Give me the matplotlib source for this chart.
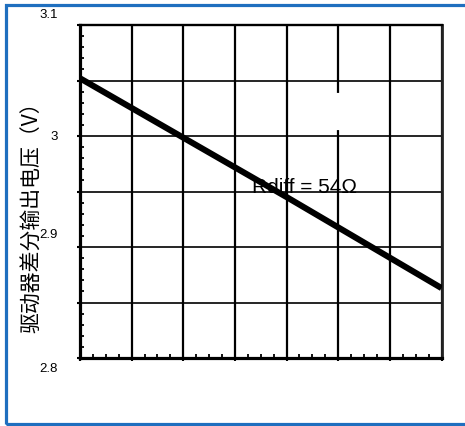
import matplotlib.pyplot as plt
from matplotlib.patches import Rectangle
from matplotlib.transforms import ScaledTranslation
import numpy as np

# values (x axis has no labels, assume temperature -40..100)
temp = [-40, 40, 100]
vout = [3.052, 2.945, 2.863]

ytick_vals = [2.8, 2.85, 2.9, 2.95, 3.0, 3.05, 3.1]
ytick_labels = ['2.8', '', '2.9', '', '3', '', '3.1']
# the labels sit oddly off their gridlines in the original (pixels, + is up)
ylabel_shift = [-10, 0, 13, 0, 1, 0, 12]
xtick_vals = [-40, -20, 0, 20, 40, 60, 80, 100]

plt.rcParams['font.family'] = ['Liberation Sans', 'DejaVu Sans']

fig = plt.figure(figsize=(4.65, 4.26), dpi=100)
ax = fig.add_axes([80/465, 1-358/426, 361.5/465, 333/426])

# blue frame round the picture (no right side visible)
fig.patches.append(Rectangle((6/465, 2/426), 1.2, 419.5/426, transform=fig.transFigure,
                             fill=False, edgecolor='#1f6fbf', linewidth=2.3))

ax.plot(temp, vout, color='black', lw=4.4, solid_capstyle='butt', zorder=4)
ax.text(26.6, 2.9486, 'Rdiff = 54Ω', fontsize=15, va='baseline', ha='left', zorder=3)

ax.set_xlim(-40, 100)
ax.set_ylim(2.8, 3.1)

ax.set_xticks(xtick_vals)
ax.set_xticklabels([])
ax.set_xticks(np.arange(-40, 101, 5), minor=True)
ax.set_yticks(ytick_vals)
ax.set_yticklabels(ytick_labels, fontsize=9.5)
ax.set_yticks(np.arange(2.8, 3.1001, 0.01), minor=True)

ax.tick_params(which='major', direction='out', length=2.5, width=1.5, pad=13.5)
ax.tick_params(which='minor', direction='in', length=3, width=1.3)
ax.tick_params(axis='x', which='minor', top=False)
ax.tick_params(axis='y', which='minor', right=False)

for lab, dy in zip(ax.get_yticklabels(), ylabel_shift):
    lab.set_transform(lab.get_transform() + ScaledTranslation(0, dy/100, fig.dpi_scale_trans))

ax.grid(True, axis='x', which='major', color='black', lw=1.6, zorder=1)
ax.grid(True, axis='y', which='major', color='black', lw=1.2, zorder=1)
ax.set_axisbelow(True)

# small break in one gridline seen in the original
ax.plot([60, 60], [3.007, 3.037], color='white', lw=3, zorder=1.5)

for side, w in [('left', 2.3), ('bottom', 2.3), ('top', 1.7), ('right', 2.0)]:
    ax.spines[side].set_linewidth(w)
ax.spines['right'].set_color('#222222')

fig.text(32/465, 1-212/426, '驱动器差分输出电压（V）', rotation=90, ha='center', va='center',
         fontsize=15, family=['Noto Sans CJK SC', 'DejaVu Sans'])

fig.savefig('out.png', dpi=100)
